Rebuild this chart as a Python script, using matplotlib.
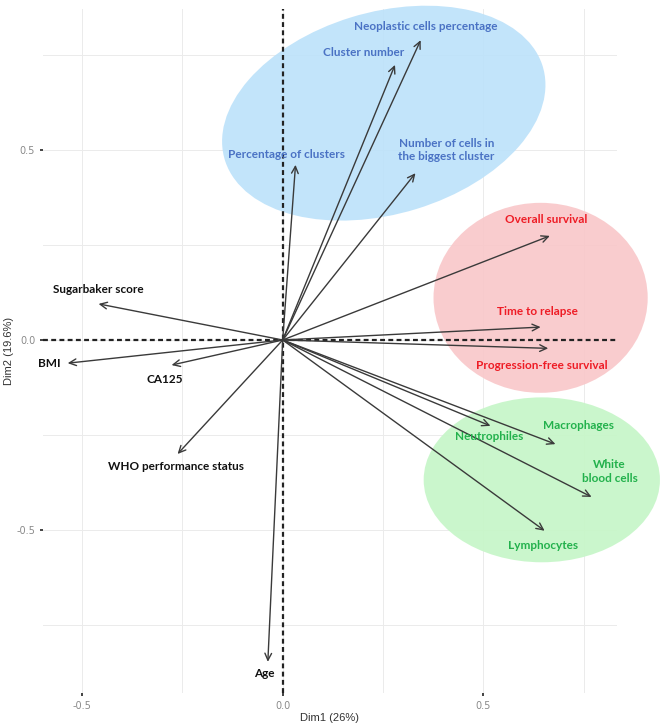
import numpy as np
import matplotlib as mpl
mpl.use('Agg')
import matplotlib.pyplot as plt
from matplotlib.patches import Ellipse

# variable loadings on Dim1 / Dim2
variables = ['Neoplastic cells percentage', 'Cluster number', 'Percentage of clusters',
             'Number of cells in\nthe biggest cluster', 'Overall survival', 'Time to relapse',
             'Progression-free survival', 'Neutrophiles', 'Macrophages', 'White\nblood cells',
             'Lymphocytes', 'Sugarbaker score', 'BMI', 'CA125', 'WHO performance status', 'Age']
dim1 = [0.344, 0.280, 0.032, 0.331, 0.666, 0.643, 0.662, 0.518, 0.680, 0.770,
        0.653, -0.459, -0.536, -0.277, -0.262, -0.037]
dim2 = [0.789, 0.724, 0.461, 0.439, 0.274, 0.034, -0.022, -0.226, -0.274, -0.413,
        -0.502, 0.095, -0.061, -0.066, -0.300, -0.847]
groups = ['tumour'] * 4 + ['survival'] * 3 + ['immune'] * 4 + ['clinical'] * 5

# where each label sits
label_x = [0.357, 0.201, 0.010, 0.408, 0.658, 0.634, 0.646, 0.516, 0.738, 0.815,
           0.648, -0.459, -0.581, -0.294, -0.267, -0.045]
label_y = [0.826, 0.756, 0.489, 0.500, 0.316, 0.074, -0.066, -0.253, -0.226, -0.347,
           -0.540, 0.132, -0.063, -0.105, -0.334, -0.879]

text_colors = {'tumour': '#4A72C4', 'survival': '#EE1C25', 'immune': '#22B14C', 'clinical': '#111111'}

# highlight ellipses: (center x, center y, width, height, angle, colour)
ellipses = [
    (0.252, 0.597, 0.83, 0.53, 18, '#BDE2FA'),
    (0.643, 0.111, 0.534, 0.50, 0, '#F9C8CA'),
    (0.646, -0.368, 0.589, 0.434, 0, '#C6F6C8'),
]


def main():
  fig = plt.figure(figsize=(6.69, 7.23), dpi=100)
  ax = fig.add_axes([0.064, 0.0415, 0.858, 0.946])
  ax.set_xlim(-0.598, 0.833)
  ax.set_ylim(-0.929, 0.871)

  ax.set_xticks([-0.5, 0.0, 0.5])
  ax.set_yticks([-0.5, 0.0, 0.5])
  ax.set_xticks([-0.25, 0.25, 0.75], minor=True)
  ax.set_yticks([-0.75, -0.25, 0.25, 0.75], minor=True)
  ax.grid(True, which='both', color='#EBEBEB', lw=0.7, zorder=0)
  ax.set_axisbelow(True)
  for s in ax.spines.values():
    s.set_visible(False)
  ax.tick_params(which='major', length=2.5, width=1.2, color='#222222',
                 labelsize=7, labelcolor='#8A8A8A', pad=3)
  ax.tick_params(which='minor', length=0)
  ax.xaxis.set_major_formatter(mpl.ticker.FormatStrFormatter('%.1f'))
  ax.yaxis.set_major_formatter(mpl.ticker.FormatStrFormatter('%.1f'))

  for cx, cy, w, h, ang, col in ellipses:
    ax.add_patch(Ellipse((cx, cy), w, h, angle=ang, facecolor=col, edgecolor='none',
                         alpha=0.92, zorder=1, clip_on=False))

  ax.axhline(0, color='#222222', lw=1.6, ls=(0, (2.2, 1.5)), zorder=2)
  ax.axvline(0, color='#222222', lw=1.6, ls=(0, (2.2, 1.5)), zorder=2)

  for i, name in enumerate(variables):
    ax.annotate('', xy=(dim1[i], dim2[i]), xytext=(0, 0),
                arrowprops=dict(arrowstyle='->,head_length=0.5,head_width=0.24',
                                color='#3A3A3A', lw=1.0, shrinkA=0, shrinkB=0),
                zorder=3)
    ax.text(label_x[i], label_y[i], name, color=text_colors[groups[i]],
            fontsize=8.5, fontweight='bold', family='Lato',
            ha='center', va='center', linespacing=1.3, zorder=4)

  ax.set_xlabel('Dim1 (26%)', fontsize=8, color='#333333', family='Liberation Sans', labelpad=2)
  ax.set_ylabel('Dim2 (19.6%)', fontsize=8, color='#333333', family='Liberation Sans', labelpad=2)

  plt.savefig('out.png', dpi=100)


if __name__ == '__main__':
  main()
